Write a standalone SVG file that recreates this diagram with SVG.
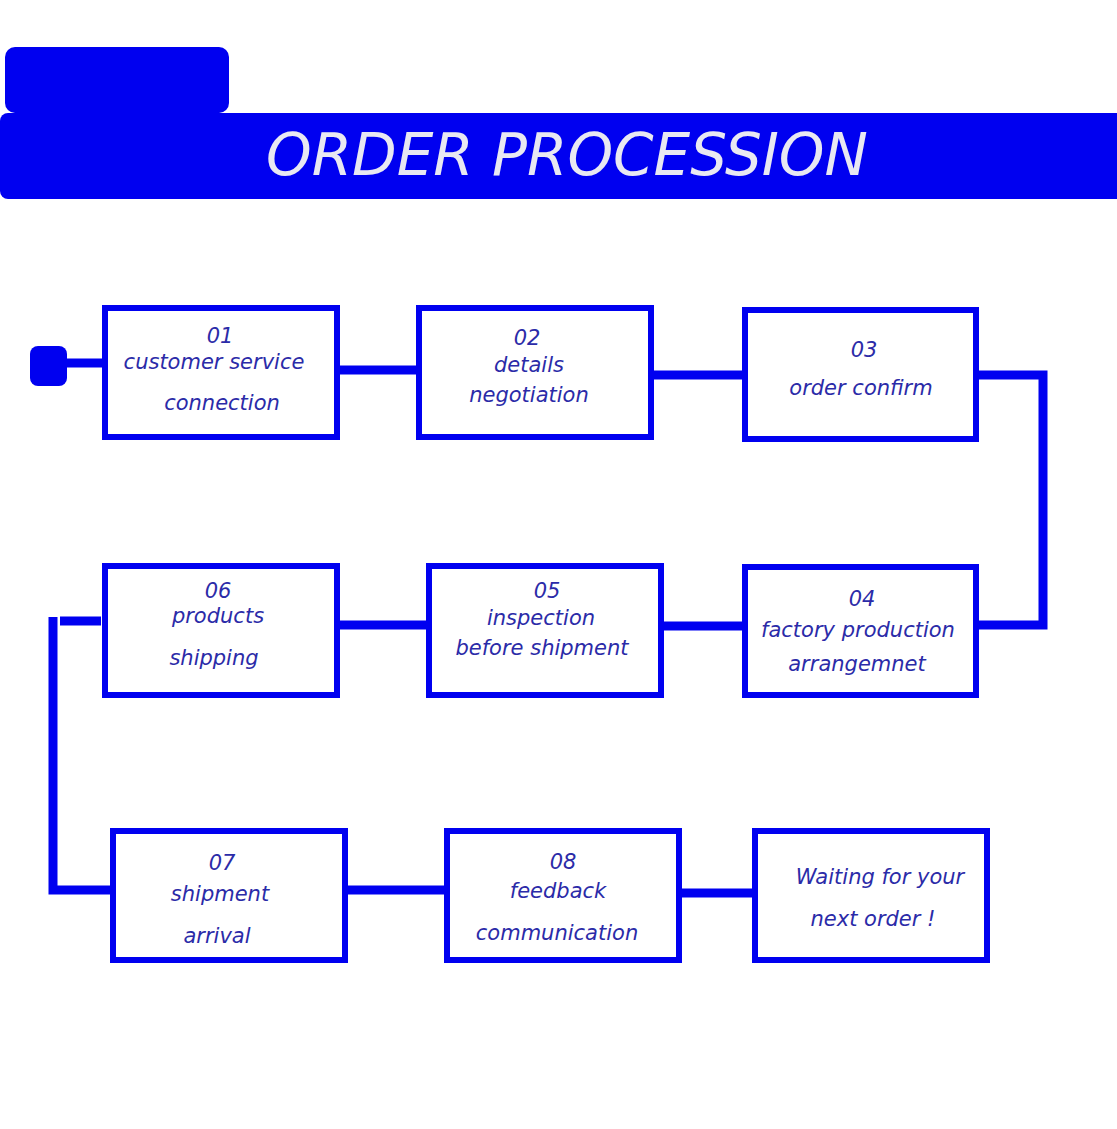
<svg xmlns="http://www.w3.org/2000/svg" width="1117" height="1129" viewBox="0 0 1117 1129">
<style>
.box{fill:#fff;stroke:#0000f0;stroke-width:6}
.c{fill:none;stroke:#0000f0;stroke-width:9}
text{font-family:"DejaVu Sans",sans-serif;font-style:italic;fill:#2b2ba8;font-size:21px;text-anchor:middle}
.t{fill:#e8e8f2;font-size:58px;font-weight:normal}
</style>
<rect width="1117" height="1129" fill="#fff"/>
<g id="header">
<rect x="5" y="47" width="224" height="66" rx="10" fill="#0000f0"/>
<rect x="0" y="113" width="1130" height="86" rx="8" fill="#0000f0"/>
<text class="t" x="567" y="175">ORDER PROCESSION</text>
</g>
<g id="connectors">
<rect x="30" y="346" width="37" height="40" rx="8" fill="#0000f0"/>
<path class="c" d="M66 363H105M337 370H419M651 375H745M976 375H1043V625H976M661 626H745M337 625H429M60 621H101M53 617V890H113M345 890H447M679 893H755"/>
</g>
<g id="n1"><rect class="box" x="105" y="308" width="232" height="129"/><text x="220" y="343">01</text><text x="214" y="369">customer service</text><text x="222" y="410">connection</text></g>
<g id="n2"><rect class="box" x="419" y="308" width="232" height="129"/><text x="527" y="345">02</text><text x="529" y="372">details</text><text x="529" y="402">negotiation</text></g>
<g id="n3"><rect class="box" x="745" y="310" width="231" height="129"/><text x="864" y="357">03</text><text x="861" y="395">order confirm</text></g>
<g id="n4"><rect class="box" x="745" y="567" width="231" height="128"/><text x="862" y="606">04</text><text x="858" y="637">factory production</text><text x="857" y="671">arrangemnet</text></g>
<g id="n5"><rect class="box" x="429" y="566" width="232" height="129"/><text x="547" y="598">05</text><text x="541" y="625">inspection</text><text x="542" y="655">before shipment</text></g>
<g id="n6"><rect class="box" x="105" y="566" width="232" height="129"/><text x="218" y="598">06</text><text x="218" y="623">products</text><text x="214" y="665">shipping</text></g>
<g id="n7"><rect class="box" x="113" y="831" width="232" height="129"/><text x="222" y="870">07</text><text x="220" y="901">shipment</text><text x="217" y="943">arrival</text></g>
<g id="n8"><rect class="box" x="447" y="831" width="232" height="129"/><text x="563" y="869">08</text><text x="558" y="898">feedback</text><text x="557" y="940">communication</text></g>
<g id="n9"><rect class="box" x="755" y="831" width="232" height="129"/><text x="880" y="884">Waiting for your</text><text x="873" y="926">next   order !</text></g>
</svg>
